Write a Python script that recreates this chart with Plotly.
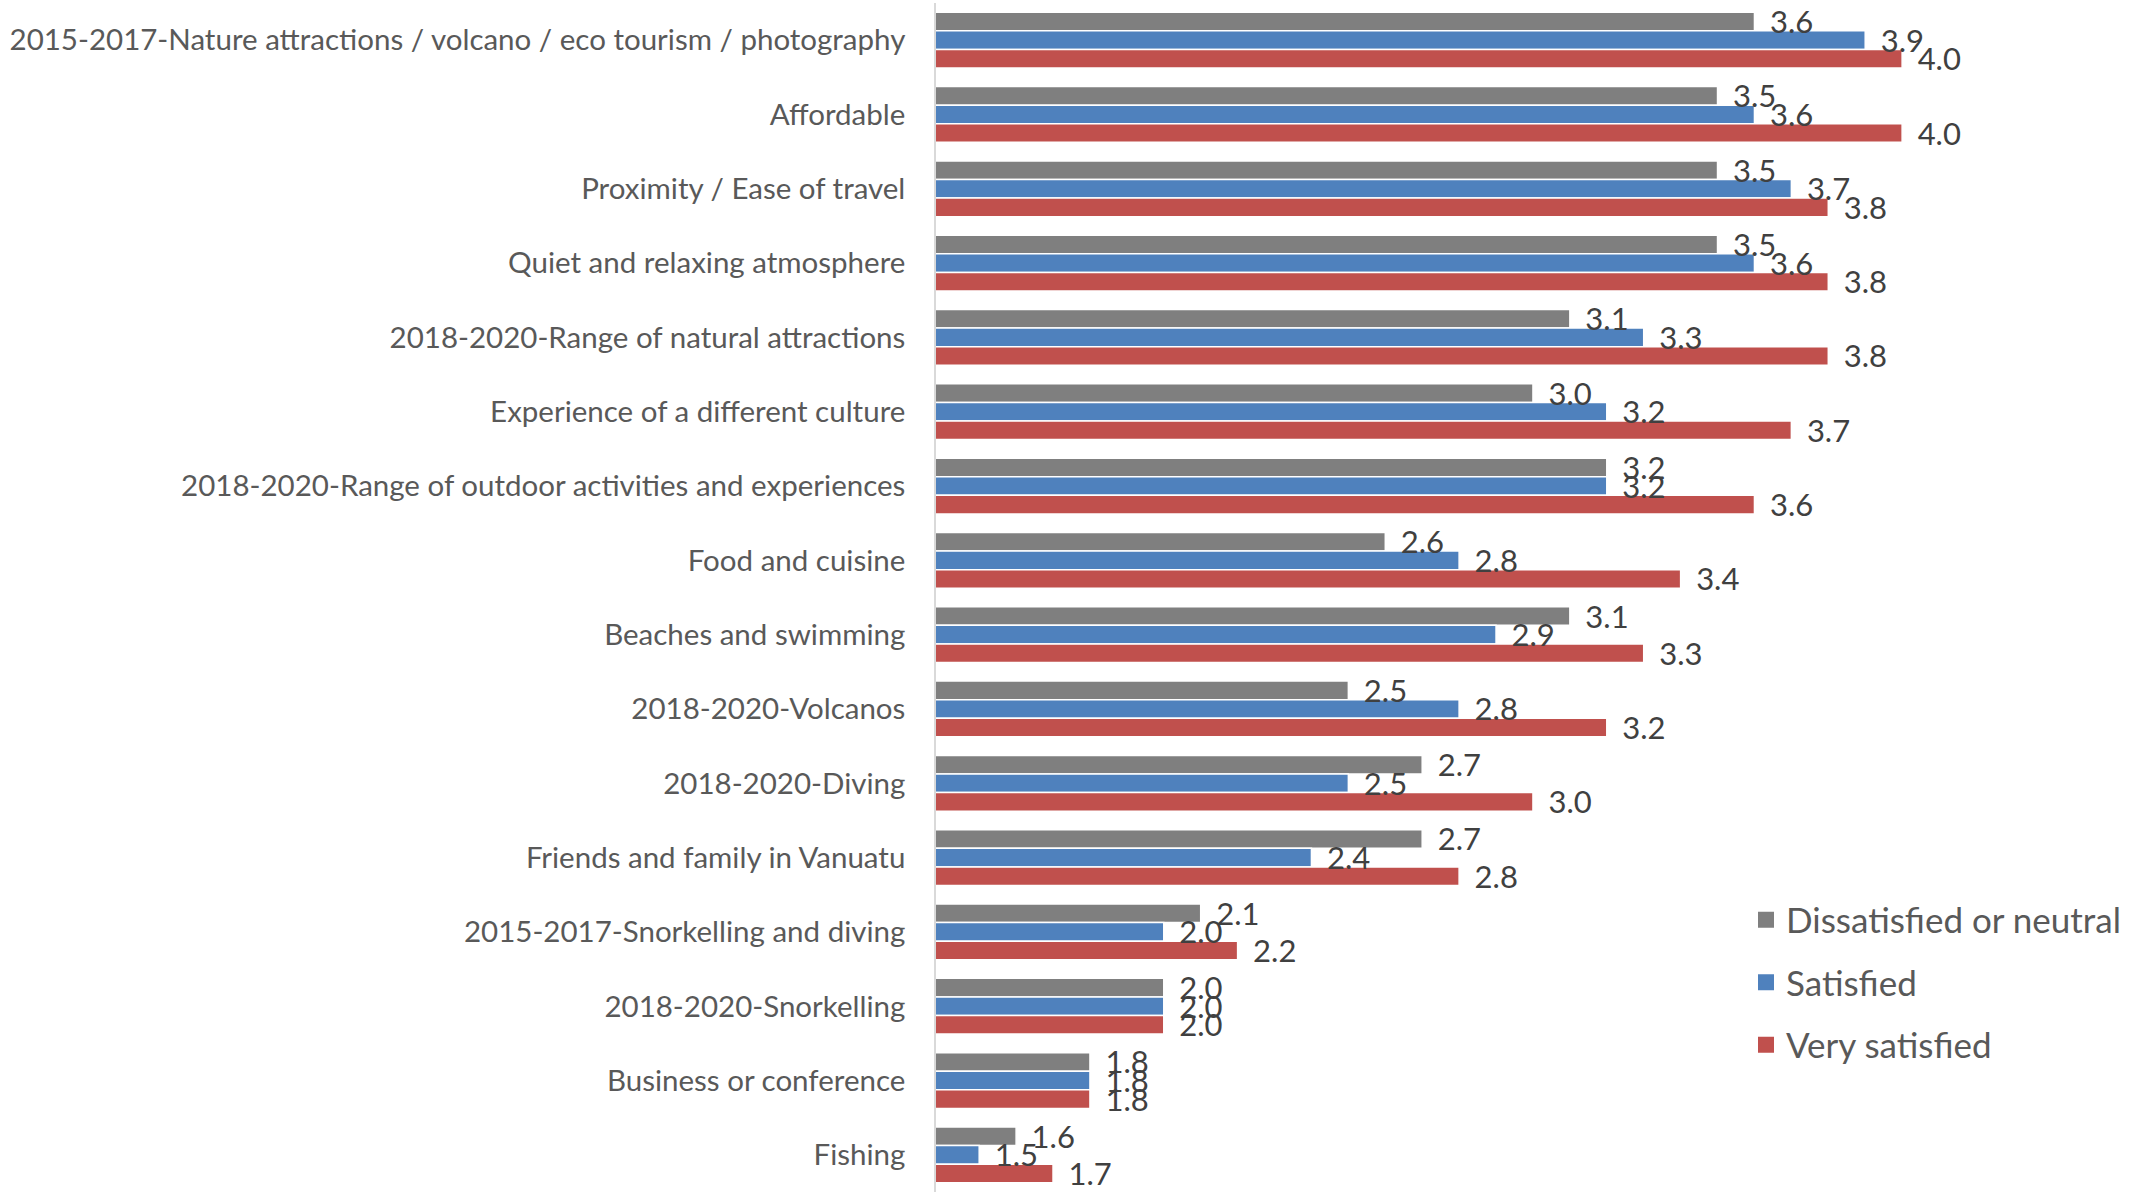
import plotly.graph_objects as go

# Reasons for visiting, ranked by the "Very satisfied" group
categories = [
    "2015-2017-Nature attractions / volcano / eco tourism / photography",
    "Affordable",
    "Proximity / Ease of travel",
    "Quiet and relaxing atmosphere",
    "2018-2020-Range of natural attractions",
    "Experience of a different culture",
    "2018-2020-Range of outdoor activities and experiences",
    "Food and cuisine",
    "Beaches and swimming",
    "2018-2020-Volcanos",
    "2018-2020-Diving",
    "Friends and family in Vanuatu",
    "2015-2017-Snorkelling and diving",
    "2018-2020-Snorkelling",
    "Business or conference",
    "Fishing",
]

dissatisfied_neutral = [3.6, 3.5, 3.5, 3.5, 3.1, 3.0, 3.2, 2.6, 3.1, 2.5, 2.7, 2.7, 2.1, 2.0, 1.8, 1.6]
satisfied = [3.9, 3.6, 3.7, 3.6, 3.3, 3.2, 3.2, 2.8, 2.9, 2.8, 2.5, 2.4, 2.0, 2.0, 1.8, 1.5]
very_satisfied = [4.0, 4.0, 3.8, 3.8, 3.8, 3.7, 3.6, 3.4, 3.3, 3.2, 3.0, 2.8, 2.2, 2.0, 1.8, 1.7]

series = [
    ("Dissatisfied or neutral", dissatisfied_neutral, "#7f7f7f"),
    ("Satisfied", satisfied, "#4f81bd"),
    ("Very satisfied", very_satisfied, "#c0504d"),
]

FONT = "Lato"
W, H = 2148, 1192
LEFT = 936
BAR_W = 0.25          # three bars fill 75 % of each category slot
LABEL_DROP = 0.05     # nudges value labels so they sit centred on their bar

positions = list(range(len(categories)))
n_series = len(series)

fig = go.Figure()


def slot_positions(k, shift=0.0):
    """Centre of bar k inside every category slot."""
    off = (k - (n_series - 1) / 2) * BAR_W + shift
    return [p + off for p in positions]


# bars
for k, (name, values, color) in enumerate(series):
    fig.add_trace(go.Bar(
        name=name,
        y=slot_positions(k),
        x=values,
        width=BAR_W,
        orientation="h",
        marker=dict(color=color, line=dict(color="white", width=1.5)),
        showlegend=False,
        customdata=categories,
        hovertemplate="%{customdata}<br>" + name + ": %{x:.1f}<extra></extra>",
    ))

# value labels, drawn above all bars
for k, (name, values, color) in enumerate(series):
    fig.add_trace(go.Scatter(
        y=slot_positions(k, LABEL_DROP),
        x=values,
        mode="text",
        text=["\u2002" + f"{v:.1f}" for v in values],
        textposition="middle right",
        textfont=dict(family=FONT, size=31, color="#404040"),
        cliponaxis=False,
        showlegend=False,
        hoverinfo="skip",
    ))

# legend entries
for name, values, color in series:
    fig.add_trace(go.Scatter(
        name=name,
        legendgroup=name,
        x=[None],
        y=[None],
        mode="markers",
        marker=dict(symbol="square", size=18, color=color),
        showlegend=True,
    ))

fig.update_layout(
    width=W,
    height=H,
    plot_bgcolor="white",
    paper_bgcolor="white",
    margin=dict(l=LEFT, r=0, t=3, b=0, autoexpand=False),
    font=dict(family=FONT, color="#595959"),
    showlegend=True,
    legend=dict(
        x=(1746 - LEFT) / (W - LEFT),
        xanchor="left",
        y=0.2536,
        yanchor="top",
        traceorder="grouped",
        tracegroupgap=14,
        font=dict(family=FONT, size=35, color="#595959"),
        bgcolor="rgba(0,0,0,0)",
    ),
    xaxis=dict(
        visible=False,
        range=[1.383, 4.666],
        showgrid=False,
        zeroline=False,
    ),
    yaxis=dict(
        range=[len(categories) - 0.5, -0.5],
        tickvals=positions,
        ticktext=categories,
        showgrid=False,
        zeroline=False,
        showline=True,
        linecolor="#d9d9d9",
        linewidth=1.5,
        ticks="",
        ticklabelstandoff=23,
        tickfont=dict(family=FONT, size=29.5, color="#595959"),
    ),
)

fig.write_html("out.html")
